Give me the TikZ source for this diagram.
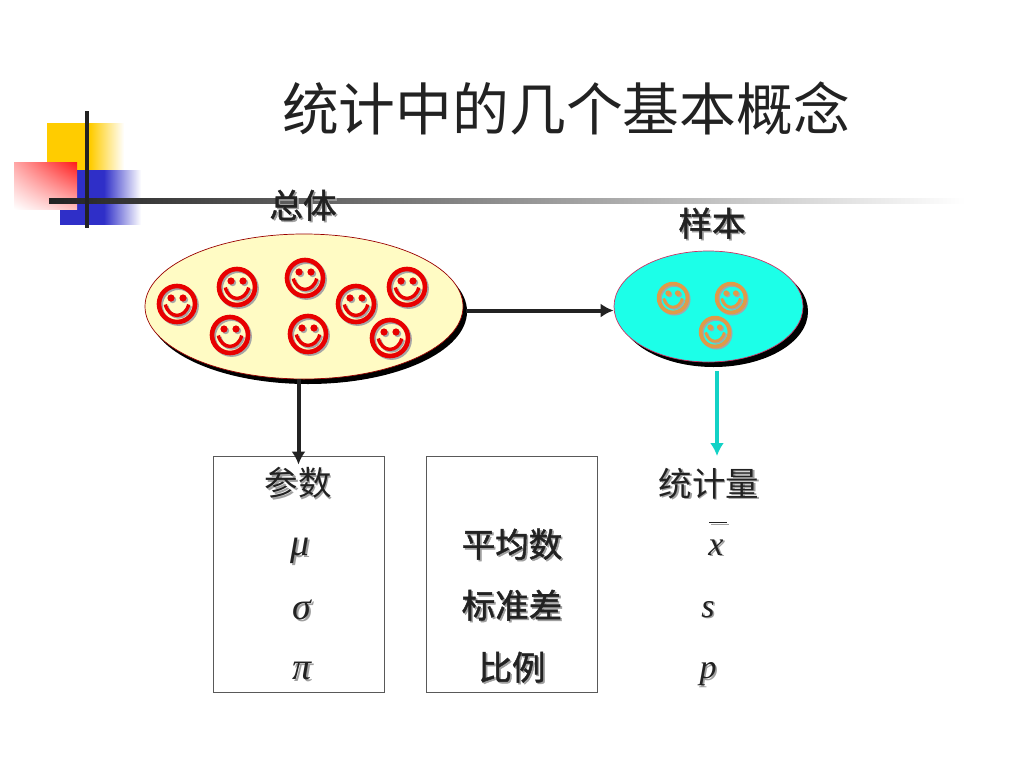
\documentclass[tikz,border=0pt]{standalone}
\usepackage{fontspec}
\setmainfont{Liberation Serif}
\newfontfamily\cjk{Noto Sans CJK SC}
\newfontfamily\cjkheavy[FakeBold=1.4]{Noto Sans CJK SC}
\usetikzlibrary{positioning, arrows.meta, shapes.geometric, shadows, shadings}
\definecolor{inkdark}{HTML}{222222}
\definecolor{decoyellow}{HTML}{FFCC00}
\definecolor{decoblue}{HTML}{2F2FC8}
\definecolor{setyellow}{HTML}{FFFBC4}
\definecolor{setcyan}{HTML}{1CFFE8}
\definecolor{facered}{HTML}{E80000}
\definecolor{faceorange}{HTML}{E09A48}
\definecolor{arrowcyan}{HTML}{12D2C6}
\pgfdeclarehorizontalshading{yellowfade}{100bp}{color(0bp)=(decoyellow); color(53bp)=(decoyellow); color(75bp)=(white); color(100bp)=(white)}
\pgfdeclarehorizontalshading{bluefade}{100bp}{color(0bp)=(decoblue); color(52bp)=(decoblue); color(75bp)=(white); color(100bp)=(white)}
% text with a soft gray copy behind it
\newcommand\Shd[1]{\makebox[0pt][l]{\hspace{1.6pt}\raisebox{-1.6pt}{\textcolor{gray!75}{#1}}}#1}
\tikzset{
  pics/smiley/.style 2 args={code={
    \begin{scope}[scale=#2, xshift=1.6pt, yshift=-1.6pt, draw=gray!70, fill=gray!70]
      \draw[line width=#2*4.6pt] (0,0) circle (18);
      \fill (-6,-6) circle (3.6) (6,-6) circle (3.6);
      \draw[line width=#2*3.4pt] (-11.7,.5) .. controls (-8,15) and (8,15) .. (11.7,.5);
    \end{scope}
    \begin{scope}[scale=#2, draw=#1, fill=#1]
      \draw[line width=#2*4.6pt] (0,0) circle (18);
      \fill (-6,-6) circle (3.6) (6,-6) circle (3.6);
      \draw[line width=#2*3.4pt] (-11.7,.5) .. controls (-8,15) and (8,15) .. (11.7,.5);
    \end{scope}
  }},
  setnode/.style={ellipse, draw=#1, inner sep=0pt, line width=.7pt},
  valuebox/.style={draw=black!65, line width=.9pt, minimum width=171pt, minimum height=236pt, inner sep=0pt},
  bigcjk/.style={font=\cjk\fontsize{33.5}{38}\selectfont, text=inkdark, inner sep=0pt},
  heavycjk/.style={font=\cjkheavy\fontsize{33.5}{38}\selectfont, text=inkdark, inner sep=0pt},
  mathsym/.style={font=\itshape\fontsize{34}{38}\selectfont, text=inkdark, inner sep=0pt},
  greeksym/.style={font=\itshape\fontsize{38}{42}\selectfont, text=inkdark, inner sep=0pt},
  linkarrow/.style={draw=inkdark, line width=4pt, -{Latex[length=13pt,width=14pt]}},
}

\begin{document}
\begin{tikzpicture}[x=1pt, y=-1pt]
  \useasboundingbox (0,0) rectangle (1024,768);

  % corner decoration
  \shade[shading=yellowfade] (47,123) rectangle (124,170);
  \shade[shading=bluefade] (60,170) rectangle (141,224);
  \shade[shading=bilinear interpolation, upper right=red!90, upper left=red!35, lower right=red!25, lower left=white] (14,162) rectangle (77,209);
  \shade[left color=inkdark, right color=white] (49,198.5) rectangle (965,203.5);
  \fill[inkdark] (85,111) rectangle (89,228);

  \node[font=\cjk\fontsize{56.8}{60}\selectfont, text=inkdark, inner sep=0pt] (title) at (566,109) {统计中的几个基本概念};

  % the two sets
  \node[setnode=red!60!black, fill=setyellow, minimum width=318pt, minimum height=145pt,
        general shadow={fill=black, shadow xshift=4pt, shadow yshift=-5pt}] (total) at (304,306.5) {};
  \node[setnode=purple!80, fill=setcyan, minimum width=189pt, minimum height=111pt,
        general shadow={fill=black, shadow xshift=5pt, shadow yshift=-5pt}] (sample) at (708.5,306.5) {};

  \foreach \x/\y in {177/304, 237/287, 305/278, 356/304, 407/287, 230/335, 308/334, 390/338}
    \pic at (\x,\y) {smiley={facered}{1}};
  \foreach \x/\y in {673/298, 731/298, 715/332}
    \pic at (\x,\y) {smiley={faceorange}{.8}};

  \node[heavycjk] (totallabel) at (303,206) {\Shd{总体}};
  \node[heavycjk] (samplelabel) at (712,224) {\Shd{样本}};

  % parameter and measure boxes
  \node[valuebox] (param) at (298.5,574) {};
  \node[valuebox] (measure) at (512,574) {};

  \node[bigcjk] (paramlabel) at (298,484) {\Shd{参数}};
  \node[greeksym] (mu) at (300,552) {\Shd{μ}};
  \node[greeksym] (sigma) at (302,611) {\Shd{σ}};
  \node[greeksym] (pi) at (302,672) {\Shd{π}};

  \node[heavycjk] (mean) at (512,545) {\Shd{平均数}};
  \node[heavycjk] (stddev) at (512,606) {\Shd{标准差}};
  \node[heavycjk] (ratio) at (512,668) {\Shd{比例}};

  \node[bigcjk] (statlabel) at (709,484) {\Shd{统计量}};
  \node[mathsym] (xbar) at (716,548) {\Shd{\smash{\makebox[0pt][l]{\hspace{1pt}\raisebox{32pt}{\rule{18pt}{1pt}}}}x}};
  \node[mathsym] (s) at (708,610) {\Shd{s}};
  \node[mathsym] (p) at (708,675) {\Shd{p}};

  % links
  \coordinate (statend) at (717,456);
  \draw[linkarrow] ([xshift=3pt,yshift=-4pt]total.east) -- ([yshift=-4pt]sample.west);
  \draw[linkarrow] (total.south -| param.north) -- ([yshift=-9pt]param.north);
  \draw[linkarrow, draw=arrowcyan, fill=arrowcyan] ([yshift=-9pt]sample.south -| statend) -- (statend);
\end{tikzpicture}
\end{document}
